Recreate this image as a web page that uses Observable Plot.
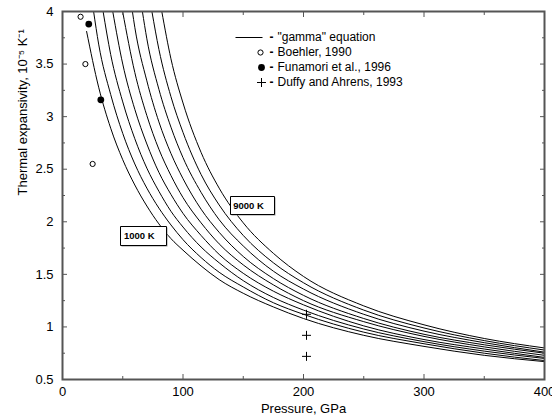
<!DOCTYPE html>
<html><head><meta charset="utf-8">
<script src="https://cdn.jsdelivr.net/npm/d3@7"></script>
<script src="https://cdn.jsdelivr.net/npm/@observablehq/plot@0.6"></script>
<style>body{margin:0;background:#fff;}</style>
</head><body><div id="chart"></div>
<script>
// ---- data ----
const temperatures = [1000, 2000, 3000, 4000, 5000, 6000, 7000, 8000, 9000];
const pressureGrid = [20, 30, 40, 50, 60, 70, 80, 90, 100, 115, 130, 150, 175, 200, 250, 300, 350, 400];
// pressure where each curve leaves the top of the frame (alpha = 4)
const topCrossing = [null, 25.8, 33.7, 41.7, 49.9, 58, 66.3, 74.2, 82.4];
const alpha1000 = [3.81, 3.28, 2.89, 2.59, 2.35, 2.15, 1.98, 1.84, 1.73, 1.58, 1.45, 1.32, 1.19, 1.08, 0.92, 0.815, 0.73, 0.67];
const alpha2000 = [null, 3.69, 3.21, 2.84, 2.55, 2.32, 2.13, 1.97, 1.83, 1.66, 1.52, 1.38, 1.23, 1.12, 0.95, 0.84, 0.75, 0.68];
const alpha3000 = [null, null, 3.59, 3.14, 2.79, 2.51, 2.29, 2.10, 1.95, 1.76, 1.61, 1.44, 1.28, 1.16, 0.98, 0.86, 0.77, 0.70];
const alpha4000 = [null, null, null, 3.50, 3.07, 2.74, 2.47, 2.26, 2.08, 1.87, 1.69, 1.51, 1.34, 1.21, 1.01, 0.88, 0.79, 0.71];
const alpha5000 = [null, null, null, null, 3.42, 3.01, 2.69, 2.44, 2.23, 1.99, 1.79, 1.59, 1.40, 1.25, 1.05, 0.91, 0.81, 0.73];
const alpha6000 = [null, null, null, null, 3.85, 3.34, 2.95, 2.65, 2.41, 2.12, 1.90, 1.67, 1.46, 1.30, 1.08, 0.93, 0.83, 0.75];
const alpha7000 = [null, null, null, null, null, 3.74, 3.26, 2.90, 2.61, 2.28, 2.02, 1.77, 1.53, 1.36, 1.12, 0.96, 0.85, 0.76];
const alpha8000 = [null, null, null, null, null, null, 3.64, 3.19, 2.85, 2.45, 2.16, 1.87, 1.61, 1.42, 1.16, 0.99, 0.87, 0.78];
const alpha9000 = [null, null, null, null, null, null, null, 3.55, 3.13, 2.66, 2.32, 1.99, 1.70, 1.48, 1.20, 1.02, 0.89, 0.80];
const curveValues = [alpha1000, alpha2000, alpha3000, alpha4000, alpha5000, alpha6000, alpha7000, alpha8000, alpha9000];

const boehlerP = [15, 19, 25];
const boehlerA = [3.95, 3.50, 2.55];
const funamoriP = [21.8, 31.8];
const funamoriA = [3.88, 3.16];
const duffyP = [202.5, 202.5, 202.5];
const duffyA = [1.12, 0.92, 0.72];

const xTicks = [0, 100, 200, 300, 400];
const xMinor = [50, 150, 250, 350];
const yTicks = [0.5, 1, 1.5, 2, 2.5, 3, 3.5, 4];
const yMinor = [0.75, 1.25, 1.75, 2.25, 2.75, 3.25, 3.75];

const legendLabels = ['"gamma" equation', 'Boehler, 1990', 'Funamori et al., 1996', 'Duffy and Ahrens, 1993'];
const xLabel = "Pressure, GPa";
const yLabel = "Thermal expansivity, 10\u207B\u2075 K\u207B\u00B9";
const lowLabel = "1000 K";
const highLabel = "9000 K";

// ---- tables ----
const curveRows = [];
temperatures.forEach((T, i) => {
  if (topCrossing[i] != null) curveRows.push({T, P: topCrossing[i], a: 4});
  curveValues[i].forEach((v, j) => { if (v != null) curveRows.push({T, P: pressureGrid[j], a: v}); });
});
const boehler = boehlerP.map((p, i) => ({P: p, a: boehlerA[i]}));
const funamori = funamoriP.map((p, i) => ({P: p, a: funamoriA[i]}));
const duffy = duffyP.map((p, i) => ({P: p, a: duffyA[i]}));

const boxSymbol = (w, h) => ({draw(ctx) { ctx.rect(-w / 2, -h / 2, w, h); }});
const lineSymbol = {draw(ctx) { ctx.moveTo(-13.5, 0); ctx.lineTo(13.5, 0); }};
const plusSymbol = {draw(ctx) { ctx.moveTo(-4.5, 0); ctx.lineTo(4.5, 0); ctx.moveTo(0, -4.5); ctx.lineTo(0, 4.5); }};

const axisColor = "#555";
const tickAxis = (fn, anchor, ticks, size) => fn({anchor, ticks, tickSize: -size, tickFormat: () => "", label: null, stroke: axisColor, strokeWidth: 1});
const fmt = d => String(d);

const chart = Plot.plot({
  width: 552,
  height: 416,
  marginLeft: 62,
  marginRight: 8,
  marginTop: 11,
  marginBottom: 37,
  style: {fontFamily: "'Liberation Sans', Arial, Helvetica, sans-serif", fontSize: "13px", background: "#fff"},
  x: {domain: [0, 400]},
  y: {domain: [0.5, 4]},
  marks: [
    Plot.line(curveRows, {x: "P", y: "a", z: "T", curve: "monotone-x", stroke: "black", strokeWidth: 1}),
    Plot.dot(boehler, {x: "P", y: "a", r: 2.6, stroke: "black", strokeWidth: 1, fill: "white"}),
    Plot.dot(funamori, {x: "P", y: "a", r: 3.4, fill: "black", stroke: "none"}),
    Plot.dot(duffy, {x: "P", y: "a", symbol: plusSymbol, stroke: "black", strokeWidth: 1, fill: "none"}),
    // temperature label boxes
    Plot.dot([lowLabel], {frameAnchor: "top-left", dx: 82, dy: 225.5, symbol: boxSymbol(46, 19), fill: "#999", stroke: "none"}),
    Plot.dot([lowLabel], {frameAnchor: "top-left", dx: 81, dy: 224.5, symbol: boxSymbol(46, 19), fill: "white", stroke: "black", strokeWidth: 1}),
    Plot.text([lowLabel], {frameAnchor: "top-left", dx: 61.5, dy: 224.7, text: d => d, textAnchor: "start", lineAnchor: "middle", fontSize: 9.5, fontWeight: "bold", fill: "black"}),
    Plot.dot([highLabel], {frameAnchor: "top-left", dx: 191, dy: 195, symbol: boxSymbol(44, 18), fill: "#999", stroke: "none"}),
    Plot.dot([highLabel], {frameAnchor: "top-left", dx: 190, dy: 194, symbol: boxSymbol(44, 18), fill: "white", stroke: "black", strokeWidth: 1}),
    Plot.text([highLabel], {frameAnchor: "top-left", dx: 170.7, dy: 194, text: d => d, textAnchor: "start", lineAnchor: "middle", fontSize: 9.5, fontWeight: "bold", fill: "black"}),
    // legend
    Plot.dot([0], {frameAnchor: "top-left", dx: 186.5, dy: 26, symbol: lineSymbol, stroke: "black", strokeWidth: 1, fill: "none"}),
    Plot.dot([0], {frameAnchor: "top-left", dx: 198, dy: 41, r: 2.6, stroke: "black", strokeWidth: 1, fill: "white"}),
    Plot.dot([0], {frameAnchor: "top-left", dx: 199, dy: 56, r: 3.4, fill: "black", stroke: "none"}),
    Plot.dot([0], {frameAnchor: "top-left", dx: 199, dy: 71, symbol: plusSymbol, stroke: "black", strokeWidth: 1, fill: "none"}),
    ...legendLabels.map((t, i) => Plot.text(["-"], {frameAnchor: "top-left", dx: 209, dy: 26 + 15 * i, text: d => d, textAnchor: "middle", lineAnchor: "middle", fontSize: 12, fontWeight: "bold", fill: "black"})),
    ...legendLabels.map((t, i) => Plot.text([t], {frameAnchor: "top-left", dx: 215, dy: 26 + 15 * i, text: d => d, textAnchor: "start", lineAnchor: "middle", fontSize: 12, fill: "black"})),
    // axis titles
    Plot.text([xLabel], {frameAnchor: "bottom", dy: 29, text: d => d, lineAnchor: "middle", fontSize: 13, fill: "black"}),
    Plot.text([yLabel], {frameAnchor: "left", dx: -40, rotate: -90, text: d => d, lineAnchor: "middle", fontSize: 13, fill: "black"}),
    // tick labels
    Plot.axisX({anchor: "bottom", ticks: xTicks, tickFormat: fmt, tickSize: 0, tickPadding: 7, label: null, fontSize: 13, fill: "black"}),
    Plot.axisY({anchor: "left", ticks: yTicks, tickFormat: fmt, tickSize: 0, tickPadding: 9, label: null, fontSize: 13, fill: "black"}),
    // inward ticks on all four sides
    tickAxis(Plot.axisX, "bottom", xMinor, 3),
    tickAxis(Plot.axisX, "bottom", xTicks, 5),
    tickAxis(Plot.axisX, "top", xMinor, 3),
    tickAxis(Plot.axisX, "top", xTicks, 5),
    tickAxis(Plot.axisY, "left", yMinor, 3),
    tickAxis(Plot.axisY, "left", yTicks, 5),
    tickAxis(Plot.axisY, "right", yMinor, 3),
    tickAxis(Plot.axisY, "right", yTicks, 5),
    Plot.frame({stroke: axisColor, strokeWidth: 2})
  ]
});
document.getElementById("chart").appendChild(chart);
</script>
</body></html>
